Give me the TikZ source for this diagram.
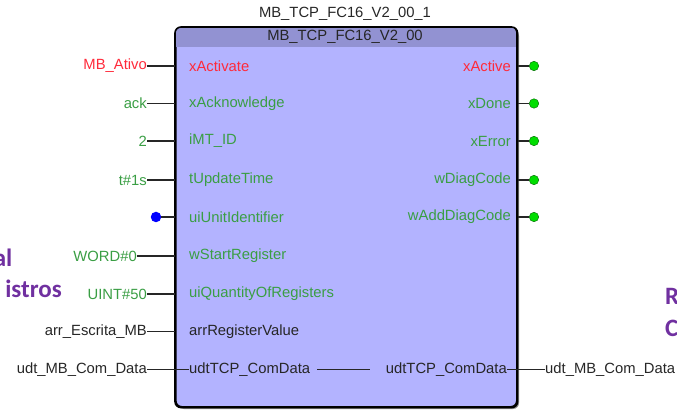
\documentclass[tikz,border=0pt]{standalone}
\usepackage{fontspec}
\setmainfont{Liberation Sans}
\newfontfamily\carl{Carlito}
\definecolor{body}{HTML}{B3B3FF}
\definecolor{hdr}{HTML}{9292D2}
\definecolor{rd}{HTML}{FF2A3A}
\definecolor{gn}{HTML}{3A9E44}
\definecolor{pp}{HTML}{7030A0}
\definecolor{dot}{HTML}{00DD00}
\definecolor{txt}{HTML}{262626}
\begin{document}
\begin{tikzpicture}[x=1pt,y=-1pt,
  lbl/.style={inner sep=0pt,font=\fontsize{14.8}{16}\selectfont},
  wire/.style={draw=black!85,line width=1.4pt},
  outdot/.style={circle,fill=dot,draw=green!40!black,line width=0.4pt,inner sep=0pt,minimum size=9.5pt},
  bluedot/.style={circle,fill=blue,inner sep=0pt,minimum size=10.5pt},
  side/.style={inner sep=0pt,font=\carl\bfseries\fontsize{25}{28}\selectfont,text=pp}]
\useasboundingbox (0,0) rectangle (677,411);
% shadow
\fill[black!45,rounded corners=6pt] (178,30) rectangle (519,409);
% block
\node[draw=black,line width=1.6pt,fill=body,rounded corners=6pt,minimum width=341pt,minimum height=379pt,anchor=north west,inner sep=0pt] (blk) at (175,27) {};
\begin{scope}
  \clip[rounded corners=6pt] (175,27) rectangle (516,406);
  \fill[hdr] (175,27) rectangle (516,47);
\end{scope}
\draw[black,line width=1.6pt,rounded corners=6pt] (blk.north west) rectangle (blk.south east);
% titles
\node[lbl,text=txt] (inst) at (345,14) {MB\_TCP\_FC16\_V2\_00\_1};
\node[lbl,text=txt] (type) at (345,37) {MB\_TCP\_FC16\_V2\_00};
% input pin names
\node[lbl,anchor=west,text=rd] (p1) at (189,66) {xActivate};
\node[lbl,anchor=west,text=gn] (p2) at (189,103.5) {xAcknowledge};
\node[lbl,anchor=west,text=gn] (p3) at (189,141) {iMT\_ID};
\node[lbl,anchor=west,text=gn] (p4) at (189,180) {tUpdateTime};
\node[lbl,anchor=west,text=gn] (p5) at (189,217) {uiUnitIdentifier};
\node[lbl,anchor=west,text=gn] (p6) at (189,256) {wStartRegister};
\node[lbl,anchor=west,text=gn] (p7) at (189,294) {uiQuantityOfRegisters};
\node[lbl,anchor=west,text=txt] (p8) at (189,331.5) {arrRegisterValue};
\node[lbl,anchor=west,text=txt] (p9) at (189,369.5) {udtTCP\_ComData};
% output pin names
\node[lbl,anchor=east,text=rd] (q1) at (511,66) {xActive};
\node[lbl,anchor=east,text=gn] (q2) at (511,103.5) {xDone};
\node[lbl,anchor=east,text=gn] (q3) at (511,141) {xError};
\node[lbl,anchor=east,text=gn] (q4) at (511,180) {wDiagCode};
\node[lbl,anchor=east,text=gn] (q5) at (511,217) {wAddDiagCode};
\node[lbl,anchor=east,text=txt] (q9) at (507,369.5) {udtTCP\_ComData};
% input values
\node[lbl,anchor=east,text=rd] (v1) at (147,66) {MB\_Ativo};
\node[lbl,anchor=east,text=gn] (v2) at (147,103.5) {ack};
\node[lbl,anchor=east,text=gn] (v3) at (147,141) {2};
\node[lbl,anchor=east,text=gn] (v4) at (147,180) {t\#1s};
\node[bluedot] (v5) at (156,217) {};
\node[lbl,anchor=east,text=gn] (v6) at (137,256) {WORD\#0};
\node[lbl,anchor=east,text=gn] (v7) at (147,294) {UINT\#50};
\node[lbl,anchor=east,text=txt] (v8) at (147,331.5) {arr\_Escrita\_MB};
\node[lbl,anchor=east,text=txt] (v9) at (147,369.5) {udt\_MB\_Com\_Data};
\node[lbl,anchor=west,text=txt] (w9) at (545,369.5) {udt\_MB\_Com\_Data};
% outputs dots
\node[outdot] (d1) at (534,66) {};
\node[outdot] (d2) at (534,103.5) {};
\node[outdot] (d3) at (534,141) {};
\node[outdot] (d4) at (534,180) {};
\node[outdot] (d5) at (534,217) {};
% input wires
\foreach \v in {v1,v2,v3,v4,v6,v7,v8} \draw[wire] (\v.east) -- (\v.east -| blk.west);
\draw[wire] (v5.east) -- (v5.east -| blk.west);
\draw[wire] (v9.east) -- (p9.west);
\path (p9.east) ++(7,0) coordinate (m1);
\path (q9.west) ++(-16,0) coordinate (m2);
\draw[wire] (m1) -- (m2);
\draw[wire] (q9.east) -- (w9.west);
% output wires
\foreach \d in {d1,d2,d3,d4,d5} \draw[wire] (\d.west -| blk.east) -- (\d.west);
% side texts
\node[side,anchor=base east] (s1) at (12.5,267) {al};
\node[side,anchor=base east] (s2) at (62,298) {istros};
\node[side,anchor=base west] (s3) at (665,305) {R};
\node[side,anchor=base west] (s4) at (665,337) {C};
\end{tikzpicture}
\end{document}
